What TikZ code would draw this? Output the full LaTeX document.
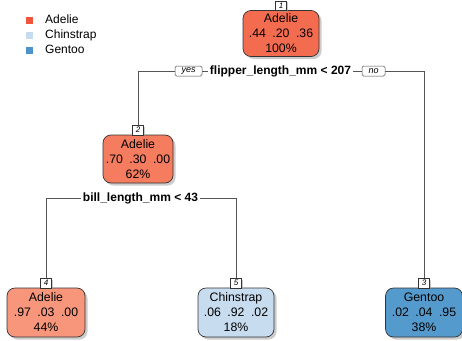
\documentclass[tikz,border=0pt]{standalone}
\usepackage{fontspec}
\setmainfont{Liberation Sans}
\usetikzlibrary{shadows,backgrounds}

\definecolor{keyAd}{HTML}{F2553E}
\definecolor{keyCh}{HTML}{C6DBEF}
\definecolor{keyGe}{HTML}{4B93C8}
\definecolor{fillA}{HTML}{F46C50}
\definecolor{fillB}{HTML}{F67C5F}
\definecolor{fillD}{HTML}{F8967C}
\definecolor{fillE}{HTML}{C8DCF0}
\definecolor{fillC}{HTML}{559ACC}
\definecolor{edgegray}{HTML}{555555}

\tikzset{
  leaf/.style={draw=black!80, line width=0.7pt, rounded corners=8pt, align=center,
    inner sep=0pt, minimum height=46pt,
    font=\fontsize{12.3}{15}\selectfont,
    drop shadow={shadow xshift=2.5pt, shadow yshift=-2.5pt, fill=black!40}},
  numbox/.style={draw=black!80, fill=white, line width=0.5pt, anchor=south,
    font=\fontsize{8}{8}\selectfont\itshape, inner sep=0pt,
    minimum width=11pt, minimum height=9.5pt,
    drop shadow={shadow xshift=1.5pt, shadow yshift=-1.5pt, fill=black!40}},
  splittext/.style={font=\fontsize{12}{12}\selectfont\bfseries, fill=white, inner sep=1.5pt},
  tag/.style={draw=black!70, fill=white, rounded corners=1.5pt, line width=0.5pt,
    font=\fontsize{9}{9}\selectfont\itshape, inner sep=0pt, minimum height=10pt},
  branch/.style={draw=edgegray, line width=0.6pt},
  key/.style={minimum size=7pt, inner sep=0pt},
  keytext/.style={anchor=mid west, font=\fontsize{12}{12}\selectfont, inner sep=0pt}
}

\newcommand{\gap}{\hspace{6.5pt}}

\begin{document}
\begin{tikzpicture}[x=1pt, y=-1pt]
  \useasboundingbox (0,0) rectangle (462,340);

  % legend
  \node[key, fill=keyAd] (ka) at (29,20.5) {};
  \node[keytext] (ta) at (45,20.5) {Adelie};
  \node[key, fill=keyCh] (kc) at (29,35.5) {};
  \node[keytext] (tc) at (45,35.5) {Chinstrap};
  \node[key, fill=keyGe] (kg) at (29,50.5) {};
  \node[keytext] (tg) at (45,50.5) {Gentoo};

  % tree nodes
  \node[leaf, fill=fillA, minimum width=76pt] (n1) at (281,33.5) {Adelie\\.44\gap.20\gap.36\\100\%};
  \node[leaf, fill=fillB, minimum width=70pt, minimum height=48pt] (n2) at (138,159) {Adelie\\.70\gap.30\gap.00\\62\%};
  \node[leaf, fill=fillD, minimum width=78pt, minimum height=49pt] (n4) at (46,312.5) {Adelie\\.97\gap.03\gap.00\\44\%};
  \node[leaf, fill=fillE, minimum width=76pt, minimum height=49pt] (n5) at (236,312.5) {Chinstrap\\.06\gap.92\gap.02\\18\%};
  \node[leaf, fill=fillC, minimum width=77pt, minimum height=49pt] (n3) at (424,312.5) {Gentoo\\.02\gap.04\gap.95\\38\%};

  % node numbers
  \node[numbox] (k1) at ([yshift=-0.5pt]n1.north) {1};
  \node[numbox] (k2) at ([yshift=-0.5pt]n2.north) {2};
  \node[numbox] (k4) at ([yshift=-0.5pt]n4.north) {4};
  \node[numbox] (k5) at ([yshift=-0.5pt]n5.north) {5};
  \node[numbox] (k3) at ([yshift=-0.5pt]n3.north) {3};

  % split labels
  \node[splittext] (s1) at (280.5,71) {flipper\_length\_mm < 207};
  \node[tag, minimum width=27pt] (yes) at (188.5,71) {yes};
  \node[tag, minimum width=23pt] (no) at (373.5,71) {no};
  \node[splittext] (s2) at (140.5,198) {bill\_length\_mm < 43};

  % branches
  \begin{scope}[on background layer]
    \draw[branch] (k2.north) |- (s1.west);
    \draw[branch] (s1.east) -| (k3.north);
    \draw[branch] (k4.north) |- (s2.west);
    \draw[branch] (s2.east) -| (k5.north);
  \end{scope}
\end{tikzpicture}
\end{document}
